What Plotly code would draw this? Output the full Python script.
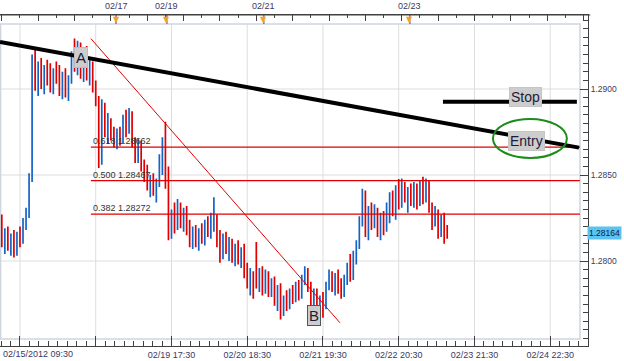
import plotly.graph_objects as go

# ---------------- data (hourly OHLC, EUR/USD-style quotes) ----------------
bar_open = [
    1.2818, 1.2812, 1.2816, 1.2809, 1.2813, 1.2805, 1.2814, 1.2811, 1.2822, 1.2827,
    1.2848, 1.2914, 1.2903, 1.2912, 1.2904, 1.2910, 1.2906, 1.2900, 1.2909, 1.2905,
    1.2899, 1.2907, 1.2897, 1.2905, 1.2919, 1.2914, 1.2925, 1.2910, 1.2917, 1.2908,
    1.2914, 1.2901, 1.2894, 1.2858, 1.2888, 1.2875, 1.2882, 1.2874, 1.2869, 1.2875,
    1.2870, 1.2883, 1.2876, 1.2886, 1.2868, 1.2860, 1.2868, 1.2855, 1.2849, 1.2844,
    1.2846, 1.2841, 1.2845, 1.2860, 1.2866, 1.2847, 1.2817, 1.2826, 1.2820, 1.2832,
    1.2823, 1.2828, 1.2818, 1.2811, 1.2817, 1.2810, 1.2816, 1.2813, 1.2821, 1.2816,
    1.2824, 1.2826, 1.2812, 1.2803, 1.2813, 1.2807, 1.2811, 1.2803, 1.2808, 1.2801,
    1.2806, 1.2793, 1.2787, 1.2792, 1.2808, 1.2788, 1.2793, 1.2784, 1.2791, 1.2783,
    1.2787, 1.2777, 1.2782, 1.2770, 1.2777, 1.2774, 1.2781, 1.2778, 1.2785, 1.2780,
    1.2789, 1.2794, 1.2785, 1.2775, 1.2780, 1.2772, 1.2778, 1.2774, 1.2786, 1.2792,
    1.2785, 1.2790, 1.2784, 1.2780, 1.2789, 1.2796, 1.2791, 1.2802, 1.2810, 1.2824,
    1.2838, 1.2818, 1.2829, 1.2821, 1.2830, 1.2817, 1.2825, 1.2819, 1.2831, 1.2837,
    1.2829, 1.2841, 1.2835, 1.2844, 1.2837, 1.2840, 1.2835, 1.2843, 1.2833, 1.2845,
    1.2838, 1.2846, 1.2831, 1.2823, 1.2828, 1.2817, 1.2824, 1.2820,
]
bar_high = [
    1.2827, 1.2819, 1.2820, 1.2816, 1.2818, 1.2817, 1.2820, 1.2825, 1.2831, 1.2851,
    1.2920, 1.2924, 1.2916, 1.2918, 1.2914, 1.2917, 1.2915, 1.2912, 1.2916, 1.2914,
    1.2910, 1.2912, 1.2908, 1.2922, 1.29293, 1.2928, 1.2927, 1.2922, 1.2925, 1.2918,
    1.2916, 1.2905, 1.2896, 1.2894, 1.2892, 1.2886, 1.2883, 1.2878, 1.2877, 1.2878,
    1.2885, 1.2888, 1.2889, 1.2887, 1.2872, 1.2871, 1.2870, 1.2859, 1.2856, 1.2850,
    1.2851, 1.2848, 1.2862, 1.2872, 1.2881, 1.2855, 1.2830, 1.2834, 1.2836, 1.2834,
    1.2831, 1.2832, 1.2824, 1.2820, 1.2821, 1.2819, 1.2822, 1.2824, 1.2826, 1.2828,
    1.2837, 1.2827, 1.2818, 1.2816, 1.2817, 1.2814, 1.2813, 1.2810, 1.2812, 1.2808,
    1.2810, 1.2799, 1.2796, 1.2794, 1.2811, 1.2796, 1.2797, 1.2795, 1.2794, 1.2790,
    1.2791, 1.2786, 1.2787, 1.2780, 1.2783, 1.2784, 1.2786, 1.2788, 1.2789, 1.2792,
    1.2797, 1.2796, 1.2788, 1.2784, 1.2784, 1.2780, 1.2782, 1.2788, 1.2795, 1.2794,
    1.2793, 1.2795, 1.2790, 1.2792, 1.2799, 1.2804, 1.2806, 1.2812, 1.2826, 1.2842,
    1.2841, 1.2832, 1.2834, 1.2833, 1.2831, 1.2828, 1.2829, 1.2834, 1.2840, 1.2841,
    1.2844, 1.28477, 1.2848, 1.2846, 1.2843, 1.2845, 1.2846, 1.2845, 1.2847, 1.2849,
    1.2848, 1.2847, 1.2834, 1.2832, 1.2830, 1.2827, 1.2828, 1.2821,
]
bar_low = [
    1.2808, 1.2804, 1.2806, 1.2803, 1.2802, 1.2803, 1.2808, 1.2810, 1.2818, 1.2825,
    1.2846, 1.2899, 1.2896, 1.2900, 1.2897, 1.2902, 1.2898, 1.2897, 1.2903, 1.2896,
    1.2894, 1.2895, 1.2893, 1.2903, 1.2910, 1.2908, 1.2906, 1.2904, 1.2905, 1.2902,
    1.2898, 1.2890, 1.2854, 1.2856, 1.2872, 1.2868, 1.2870, 1.2866, 1.2865, 1.2867,
    1.2868, 1.2872, 1.2874, 1.2866, 1.2857, 1.2857, 1.2852, 1.2846, 1.2841, 1.2837,
    1.2838, 1.2834, 1.2843, 1.2850, 1.2842, 1.2812, 1.2813, 1.2816, 1.2818, 1.2819,
    1.2817, 1.2815, 1.2808, 1.2807, 1.2808, 1.2806, 1.2810, 1.2809, 1.2814, 1.2813,
    1.2817, 1.2808, 1.2799, 1.2801, 1.2804, 1.2800, 1.2799, 1.2797, 1.2798, 1.2796,
    1.2790, 1.2784, 1.2780, 1.2778, 1.2784, 1.2782, 1.2780, 1.2781, 1.2779, 1.2779,
    1.2774, 1.2771, 1.2766, 1.2768, 1.2771, 1.2772, 1.2775, 1.2776, 1.2777, 1.2778,
    1.2786, 1.2782, 1.2772, 1.2770, 1.27641, 1.2768, 1.2767, 1.2772, 1.2783, 1.2782,
    1.2780, 1.2781, 1.2778, 1.2779, 1.2786, 1.2788, 1.2789, 1.2798, 1.2807, 1.2820,
    1.2814, 1.2812, 1.2818, 1.2819, 1.2814, 1.2812, 1.2815, 1.2817, 1.2822, 1.2826,
    1.2824, 1.2830, 1.2831, 1.2834, 1.2828, 1.2832, 1.2831, 1.2830, 1.2832, 1.2833,
    1.2834, 1.2828, 1.2818, 1.2820, 1.2813, 1.2814, 1.2810, 1.2813,
]
bar_close = [
    1.2812, 1.2816, 1.2809, 1.2813, 1.2805, 1.2814, 1.2811, 1.2822, 1.2828, 1.2848,
    1.2914, 1.2903, 1.2912, 1.2904, 1.2910, 1.2906, 1.2900, 1.2909, 1.2905, 1.2899,
    1.2907, 1.2897, 1.2905, 1.2919, 1.2914, 1.2925, 1.2910, 1.2917, 1.2908, 1.2914,
    1.2901, 1.2894, 1.2858, 1.2888, 1.2875, 1.2882, 1.2874, 1.2869, 1.2875, 1.2870,
    1.2883, 1.2876, 1.2886, 1.2868, 1.2860, 1.2868, 1.2855, 1.2849, 1.2844, 1.2846,
    1.2841, 1.2845, 1.2860, 1.2866, 1.2847, 1.2817, 1.2826, 1.2820, 1.2832, 1.2823,
    1.2828, 1.2818, 1.2811, 1.2817, 1.2810, 1.2816, 1.2813, 1.2821, 1.2816, 1.2824,
    1.2826, 1.2812, 1.2803, 1.2813, 1.2807, 1.2811, 1.2803, 1.2808, 1.2801, 1.2806,
    1.2793, 1.2787, 1.2792, 1.2782, 1.2788, 1.2793, 1.2784, 1.2791, 1.2783, 1.2787,
    1.2777, 1.2782, 1.2770, 1.2777, 1.2774, 1.2781, 1.2778, 1.2785, 1.2780, 1.2789,
    1.2794, 1.2785, 1.2775, 1.2780, 1.2772, 1.2778, 1.2774, 1.2786, 1.2792, 1.2785,
    1.2790, 1.2784, 1.2780, 1.2789, 1.2796, 1.2791, 1.2802, 1.2810, 1.2824, 1.2838,
    1.2818, 1.2829, 1.2821, 1.2830, 1.2817, 1.2825, 1.2819, 1.2831, 1.2837, 1.2829,
    1.2841, 1.2835, 1.2844, 1.2837, 1.2840, 1.2835, 1.2843, 1.2833, 1.2845, 1.2838,
    1.2846, 1.2831, 1.2823, 1.2828, 1.2817, 1.2824, 1.2814, 1.28164,
]
bar_index = list(range(len(bar_close)))

# bottom time axis (bar index of each labelled gridline)
time_tick_index = [6, 31, 56, 81, 106, 131, 156, 181]
time_tick_labels = ["", "", "02/19 17:30", "02/20 18:30", "02/21 19:30",
                    "02/22 20:30", "02/23 21:30", "02/24 22:30"]
first_time_label = "02/15/2012 09:30"

# price axis
price_ticks = [1.2800, 1.2850, 1.2900]
last_price = 1.28164

# top event markers
event_index = [37.7, 54.5, 86.5, 134.7]
event_labels = ["02/17", "02/19", "02/21", "02/23"]

# Fibonacci retracement (swing A high -> B low)
swing_a = (29.4, 1.29293)
swing_b = (111.6, 1.27641)
fib_ratios = [0.618, 0.500, 0.382]
fib_prices = [1.28662, 1.28467, 1.28272]

# drawn trade setup
trend_line = [(-0.6, 1.29273), (190.5, 1.28659)]
stop_line = [(145.6, 1.28926), (189.8, 1.28926)]
entry_ellipse = [(162.1, 1.28599), (186.5, 1.28826)]
label_a = (26.1, 1.29186)
label_b = (102.9, 1.27683)
label_stop = (172.7, 1.28953)
label_entry = (173.3, 1.28698)

# ---------------- layout constants ----------------
X_RANGE = [-0.594, 193.47]
Y_RANGE = [1.275058, 1.294302]
BOX_R = 0.98639
BOX_T = 0.97281
BOX_B = 0.02115
FONT = "Liberation Sans"
AX_COL = "#404040"
TXT_COL = "#3a3a66"
RED = "#e00000"
BLUE = "#1464c8"

fig = go.Figure()
fig.add_trace(go.Ohlc(
    x=bar_index, open=bar_open, high=bar_high, low=bar_low, close=bar_close,
    increasing=dict(line=dict(color=BLUE, width=1.7)),
    decreasing=dict(line=dict(color=RED, width=1.7)),
    tickwidth=0.02, hoverinfo="skip", showlegend=False,
))
# invisible trace to carry the top axis
fig.add_trace(go.Scatter(x=[bar_index[0]], y=[bar_close[0]], xaxis="x2", mode="markers",
                         marker=dict(opacity=0), hoverinfo="skip", showlegend=False))

shapes = []
# gridlines and plot box
for t in time_tick_index:
    shapes.append(dict(type="line", xref="x", yref="paper", x0=t, x1=t, y0=BOX_B, y1=BOX_T,
                       line=dict(color="#dddddd", width=1), layer="below"))
for p in price_ticks:
    shapes.append(dict(type="line", xref="paper", yref="y", x0=0, x1=BOX_R, y0=p, y1=p,
                       line=dict(color="#dddddd", width=1), layer="below"))
shapes.append(dict(type="rect", xref="paper", yref="paper", x0=0.001, x1=BOX_R, y0=BOX_B, y1=BOX_T,
                   line=dict(color="#cfd5de", width=1.5), layer="below"))
# fib lines
for p in fib_prices:
    shapes.append(dict(type="line", xref="x", yref="y", x0=swing_a[0], x1=190.8, y0=p, y1=p,
                       line=dict(color=RED, width=1.2)))
# diagonal A->B
shapes.append(dict(type="line", xref="x", yref="y", x0=swing_a[0], y0=swing_a[1],
                   x1=swing_b[0], y1=swing_b[1], line=dict(color=RED, width=1)))
# trendline
shapes.append(dict(type="line", xref="x", yref="y", x0=trend_line[0][0], y0=trend_line[0][1],
                   x1=trend_line[1][0], y1=trend_line[1][1], line=dict(color="black", width=4)))
# stop line
shapes.append(dict(type="line", xref="x", yref="y", x0=stop_line[0][0], y0=stop_line[0][1],
                   x1=stop_line[1][0], y1=stop_line[1][1], line=dict(color="black", width=4)))
# entry ellipse
shapes.append(dict(type="circle", xref="x", yref="y", x0=entry_ellipse[0][0], y0=entry_ellipse[0][1],
                   x1=entry_ellipse[1][0], y1=entry_ellipse[1][1], line=dict(color="#1c8c1c", width=2)))
# top axis extension and event marker stems
shapes.append(dict(type="line", xref="paper", yref="paper", x0=0, x1=1.004, y0=1, y1=1,
                   line=dict(color=AX_COL, width=1)))
for e in event_index:
    shapes.append(dict(type="line", xref="x", yref="paper", x0=e, x1=e, y0=0.973, y1=1,
                       line=dict(color=AX_COL, width=1)))

annotations = []
for r, p in zip(fib_ratios, fib_prices):
    annotations.append(dict(x=swing_a[0], y=p, xref="x", yref="y", text=f"{r:.3f} {p:.5f}",
                            showarrow=False, xanchor="left", yanchor="bottom", yshift=-1,
                            font=dict(family=FONT, size=9, color="#333333")))


def tag(pos, text, size, border):
    return dict(x=pos[0], y=pos[1], xref="x", yref="y", text=text, showarrow=False,
                font=dict(family=FONT, size=size, color="#1c1c3a"), bgcolor="#cdcdcd",
                bordercolor=border, borderwidth=1, borderpad=1)


annotations.append(tag(label_a, "A", 15, "#bdbdbd"))
annotations.append(tag(label_b, "B", 15, "#555555"))
annotations.append(tag(label_stop, "Stop", 14, "#c4c4c4"))
annotations.append(tag(label_entry, "Entry", 14, "#c4c4c4"))
annotations.append(dict(x=1, y=last_price, xref="paper", yref="y", text=f"{last_price:.5f}",
                        showarrow=False, xanchor="left", xshift=-1, bgcolor="#5bc3f2",
                        borderpad=1, font=dict(family=FONT, size=8.5, color="#10203a")))
annotations.append(dict(x=0, y=0, xref="paper", yref="paper", text=first_time_label,
                        showarrow=False, xanchor="left", yanchor="top", yshift=-1, xshift=1,
                        font=dict(family=FONT, size=9, color=TXT_COL)))
for e, lab in zip(event_index, event_labels):
    annotations.append(dict(x=e, y=1, xref="x", yref="paper", text=lab, showarrow=False,
                            yanchor="bottom", yshift=2,
                            font=dict(family=FONT, size=9, color=TXT_COL)))
    annotations.append(dict(x=e, y=1, xref="x", yref="paper", text="▼", showarrow=False,
                            yanchor="top", yshift=2,
                            font=dict(family="DejaVu Sans", size=8, color="#f5a020")))

fig.update_layout(
    width=624, height=361,
    margin=dict(l=0, r=36, t=15, b=15, pad=0),
    paper_bgcolor="white", plot_bgcolor="white",
    showlegend=False,
    shapes=shapes, annotations=annotations,
    xaxis=dict(range=X_RANGE, showgrid=False, zeroline=False, rangeslider=dict(visible=False),
               showline=True, linecolor=AX_COL, linewidth=1,
               tickmode="array", tickvals=time_tick_index, ticktext=time_tick_labels,
               ticks="inside", ticklen=10, tickcolor=AX_COL, tickwidth=1,
               tickfont=dict(family=FONT, size=9, color=TXT_COL),
               minor=dict(tickmode="linear", tick0=6, dtick=3.125, ticks="inside",
                          ticklen=5, tickcolor=AX_COL, showgrid=False)),
    xaxis2=dict(range=X_RANGE, overlaying="x", side="top", anchor="y", showgrid=False,
                zeroline=False, showline=True, linecolor=AX_COL, showticklabels=False,
                tickmode="linear", tick0=0, dtick=12, ticks="inside", ticklen=6,
                tickcolor=AX_COL,
                minor=dict(tickmode="linear", tick0=6, dtick=12, ticks="inside",
                           ticklen=3, tickcolor=AX_COL, showgrid=False)),
    yaxis=dict(range=Y_RANGE, side="right", showgrid=False, zeroline=False,
               showline=True, linecolor=AX_COL, linewidth=1,
               tickmode="array", tickvals=price_ticks,
               ticktext=[f"{p:.4f}" for p in price_ticks],
               ticks="inside", ticklen=8, tickcolor=AX_COL,
               tickfont=dict(family=FONT, size=8.5, color=TXT_COL),
               minor=dict(tickmode="linear", tick0=1.28, dtick=0.0005, ticks="inside",
                          ticklen=5, tickcolor=AX_COL, showgrid=False)),
)

fig.write_html("out.html", config={"displayModeBar": False},
               post_script="document.body.style.margin='0px';")
